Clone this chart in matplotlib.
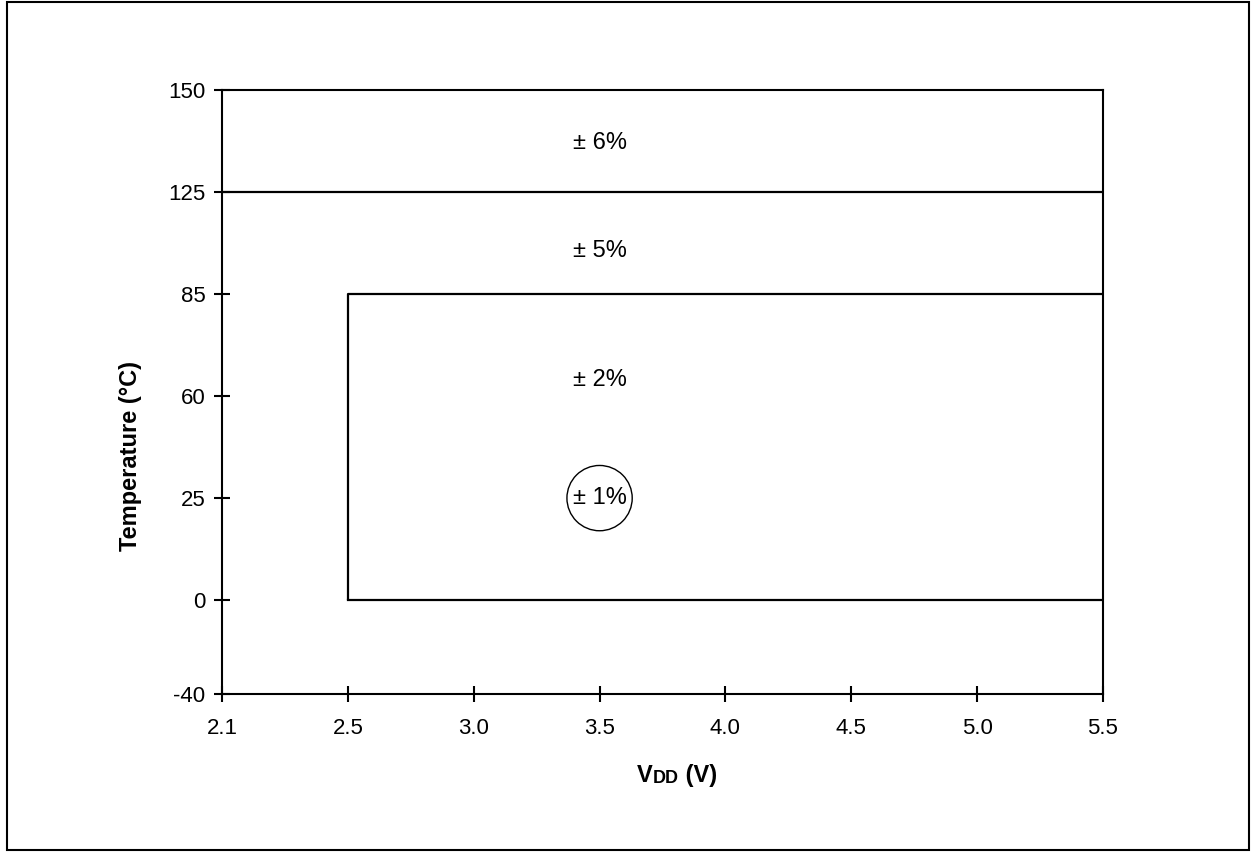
import matplotlib
matplotlib.use("Agg")
import matplotlib.pyplot as plt
import matplotlib.patches as mpatches
import numpy as np

plt.rcParams["font.family"] = ["Liberation Sans", "DejaVu Sans"]

# axis tick values (drawn evenly spaced like the datasheet)
vdd_ticks = [2.1, 2.5, 3.0, 3.5, 4.0, 4.5, 5.0, 5.5]
vdd_labels = ["2.1", "2.5", "3.0", "3.5", "4.0", "4.5", "5.0", "5.5"]
temp_ticks = [-40, 0, 25, 60, 85, 125, 150]
temp_labels = ["-40", "0", "25", "60", "85", "125", "150"]

# accuracy regions
ext_limit = 125          # line between 6% and 5%
ind_vdd = [2.5, 5.5]     # 2% box, voltage range
ind_temp = [0, 85]       # 2% box, temperature range
vdd_min, vdd_max = 2.1, 5.5

region_labels = ["\u00b1 6%", "\u00b1 5%", "\u00b1 2%", "\u00b1 1%"]
region_vdd = [3.5, 3.5, 3.5, 3.5]
region_temp = [137, 102, 64, 25]

# axis warp: equal spacing per tick, last y step a bit shorter
x_pos = np.arange(len(vdd_ticks), dtype=float)
y_pos = np.array([0.0, 0.92, 1.92, 2.92, 3.92, 4.92, 5.92])


def fx(v):
    return np.interp(v, vdd_ticks, x_pos)


def fx_inv(p):
    return np.interp(p, x_pos, vdd_ticks)


def fy(v):
    return np.interp(v, temp_ticks, y_pos)


def fy_inv(p):
    return np.interp(p, y_pos, temp_ticks)


W, H = 1251, 852
fig = plt.figure(figsize=(W / 100, H / 100), dpi=100)
ax = fig.add_axes([222 / W, 1 - 694 / H, (1103 - 222) / W, (694 - 90) / H])
ax.set_xscale("function", functions=(fx, fx_inv))
ax.set_yscale("function", functions=(fy, fy_inv))
ax.set_xlim(vdd_min, vdd_max)
ax.set_ylim(-40, 150)

ax.set_xticks(vdd_ticks)
ax.set_xticklabels(vdd_labels)
ax.set_yticks(temp_ticks)
ax.set_yticklabels(temp_labels)
ax.minorticks_off()
ax.tick_params(direction="inout", length=12, width=1.5, labelsize=16, colors="black")
ax.tick_params(axis="x", pad=11)
ax.tick_params(axis="y", pad=6)
for s in ax.spines.values():
    s.set_linewidth(1.5)

lw = 1.6
ax.plot([vdd_min, vdd_max], [ext_limit, ext_limit], color="black", lw=lw)
ax.plot([ind_vdd[0], ind_vdd[0], ind_vdd[1]], [ind_temp[0], ind_temp[1], ind_temp[1]],
        color="black", lw=lw, solid_capstyle="butt")
ax.plot(ind_vdd, [ind_temp[0], ind_temp[0]], color="black", lw=lw)

for lab, xv, tv in zip(region_labels, region_vdd, region_temp):
    ax.text(xv, tv, lab, ha="center", va="center", fontsize=17)

# circle round the 1% point
ax.scatter([region_vdd[3]], [region_temp[3]], s=47 ** 2, facecolors="none",
           edgecolors="black", linewidths=1, zorder=3)

# axis titles
fig.text(130 / W, 1 - 456 / H, "Temperature (\u00b0C)", rotation=90, ha="center",
         va="center", fontsize=17, fontweight="bold")
t1 = fig.text(637 / W, 1 - 787 / H, "V", fontsize=17, fontweight="bold", va="bottom")
t2 = ax.annotate("DD", xy=(1, 0), xycoords=t1, fontsize=13, fontweight="bold", va="bottom")
ax.annotate(" (V)", xy=(1, 0), xycoords=t2, fontsize=17, fontweight="bold", va="bottom")

# page frame
fig.patches.append(mpatches.Rectangle((7 / W, 2 / H), (1249 - 7) / W, (850 - 2) / H,
                                      transform=fig.transFigure, fill=False,
                                      edgecolor="black", lw=1.5))

fig.savefig("out.png", dpi=100)
